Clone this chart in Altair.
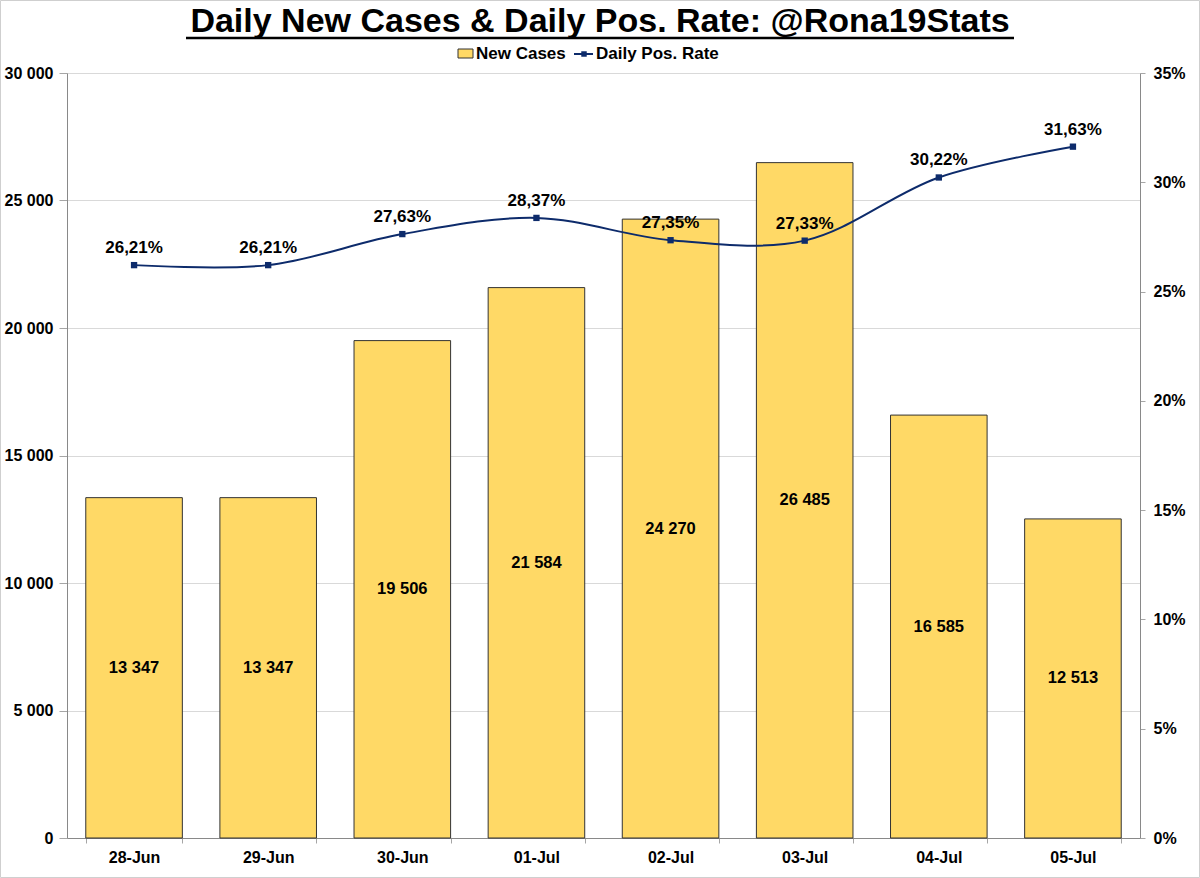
import altair as alt
import pandas as pd

dates = ["28-Jun", "29-Jun", "30-Jun", "01-Jul", "02-Jul", "03-Jul", "04-Jul", "05-Jul"]
new_cases = [13347, 13347, 19506, 21584, 24270, 26485, 16585, 12513]
pos_rate = [26.21, 26.21, 27.63, 28.37, 27.35, 27.33, 30.22, 31.63]

left_ticks = [0, 5000, 10000, 15000, 20000, 25000, 30000]
right_ticks = [0, 5, 10, 15, 20, 25, 30, 35]

df = pd.DataFrame({"date": dates, "cases": new_cases, "rate": pos_rate})

FONT = "Liberation Sans"
BAR = "#FFD966"
NAVY = "#0D2B6B"
W, H = 1073, 765

base = alt.Chart(df)

x_enc = alt.X(
    "date:N", sort=dates, title=None,
    scale=alt.Scale(paddingInner=0.28, paddingOuter=0.14),
    axis=alt.Axis(labelAngle=0, labelFontSize=16, labelFontWeight="bold", labelFont=FONT,
                  labelColor="black", tickBand="extent", tickSize=5, tickColor="#A6A6A6",
                  domainColor="#898989", labelPadding=6, grid=False),
)

left_scale = alt.Scale(domain=[0, 30000], nice=False)
left_axis = alt.Axis(values=left_ticks, labelExpr="replace(format(datum.value, ','), ',', ' ')",
                     labelFontSize=16, labelFontWeight="bold", labelFont=FONT, labelColor="black",
                     tickSize=8, tickColor="#A6A6A6", domainColor="#898989", labelPadding=6,
                     grid=True, gridColor="#D9D9D9", title=None)

right_scale = alt.Scale(domain=[0, 35], nice=False)
right_axis = alt.Axis(values=right_ticks, labelExpr="datum.value + '%'", orient="right",
                      labelFontSize=16, labelFontWeight="bold", labelFont=FONT, labelColor="black",
                      tickSize=5, tickColor="#A6A6A6", domainColor="#898989", labelPadding=8,
                      grid=False, title=None)

bars = base.mark_bar(color=BAR, stroke="#333333", strokeWidth=1).encode(
    x=x_enc,
    y=alt.Y("cases:Q", scale=left_scale, axis=left_axis),
)
bar_text = base.transform_calculate(
    mid="datum.cases / 2",
    lbl="replace(format(datum.cases, ','), ',', ' ')",
).mark_text(font=FONT, fontSize=16.5, fontWeight="bold", color="black", baseline="middle").encode(
    x=x_enc,
    y=alt.Y("mid:Q", scale=left_scale, axis=left_axis),
    text="lbl:N",
)
left_layer = alt.layer(bars, bar_text)

line = base.mark_line(color=NAVY, strokeWidth=2, interpolate="catmull-rom").encode(
    x=x_enc,
    y=alt.Y("rate:Q", scale=right_scale, axis=right_axis),
)
pts = base.mark_point(shape="square", filled=True, color=NAVY, size=40, opacity=1).encode(
    x=x_enc,
    y=alt.Y("rate:Q", scale=right_scale, axis=right_axis),
)
line_text = base.transform_calculate(
    lbl="replace(format(datum.rate, '.2f'), '.', ',') + '%'"
).mark_text(font=FONT, fontSize=17, fontWeight="bold", color="black", dy=-17, baseline="middle").encode(
    x=x_enc,
    y=alt.Y("rate:Q", scale=right_scale, axis=right_axis),
    text="lbl:N",
)

# Title and legend decorations (placed above the plot area)
title_df = pd.DataFrame({"t": ["Daily New Cases & Daily Pos. Rate: @Rona19Stats"]})
title = alt.Chart(title_df).mark_text(font=FONT, fontSize=34, fontWeight="bold",
                                      color="black", align="center", baseline="alphabetic").encode(
    x=alt.value(533), y=alt.value(-41), text="t:N")
underline = alt.Chart(title_df).mark_rule(color="black", strokeWidth=2.5).encode(
    x=alt.value(119), x2=alt.value(947), y=alt.value(-35))

leg_df = pd.DataFrame({"a": ["New Cases"], "b": ["Daily Pos. Rate"]})
leg_rect = alt.Chart(leg_df).mark_rect(color=BAR, stroke="#333333", strokeWidth=1).encode(
    x=alt.value(391), x2=alt.value(406), y=alt.value(-24), y2=alt.value(-15))
leg_t1 = alt.Chart(leg_df).mark_text(font=FONT, fontSize=17, fontWeight="bold", color="black",
                                     align="left", baseline="middle").encode(
    x=alt.value(409), y=alt.value(-19), text="a:N")
leg_line = alt.Chart(leg_df).mark_rule(color=NAVY, strokeWidth=2).encode(
    x=alt.value(507), x2=alt.value(526), y=alt.value(-19))
leg_pt = alt.Chart(leg_df).mark_point(shape="square", filled=True, color=NAVY, size=30, opacity=1).encode(
    x=alt.value(517), y=alt.value(-19))
leg_t2 = alt.Chart(leg_df).mark_text(font=FONT, fontSize=17, fontWeight="bold", color="black",
                                     align="left", baseline="middle").encode(
    x=alt.value(529), y=alt.value(-19), text="b:N")
border = alt.Chart(leg_df).mark_rect(fill=None, stroke="#CFCFCF", strokeWidth=1).encode(
    x=alt.value(-66.5), x2=alt.value(1132.5), y=alt.value(-72.5), y2=alt.value(804.5))

right_layer = alt.layer(line, pts, line_text, title, underline, leg_rect, leg_t1, leg_line, leg_pt, leg_t2, border)

chart = alt.layer(left_layer, right_layer).resolve_scale(y="independent").properties(
    width=W, height=H,
    autosize=alt.AutoSizeParams(type="none"),
    padding={"left": 67, "top": 73, "right": 60, "bottom": 40},
    background="white",
).configure_view(stroke=None)

chart.save("out.html", embed_options={"renderer": "svg", "actions": False})
